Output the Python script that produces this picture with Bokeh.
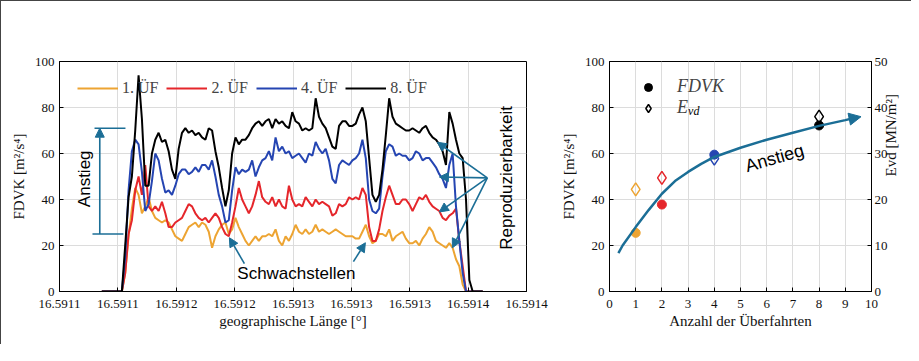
import numpy as np
from bokeh.plotting import figure
from bokeh.models import (ColumnDataSource, Range1d, LinearAxis, FixedTicker,
                          PrintfTickFormatter, Legend, LegendItem, Label, Arrow,
                          NormalHead)
from bokeh.layouts import row
from bokeh.embed import file_html
from bokeh.resources import INLINE

ORANGE = "#EDA432"
RED = "#E5262B"
BLUE = "#2545B2"
BLACK = "#000000"
TEAL = "#1B6E96"
SERIF = "Liberation Serif"
SANS = "Liberation Sans"

# ---------------- left panel data ----------------
X_TICKS = [16.59110, 16.59114, 16.59118, 16.59122, 16.59126,
           16.59130, 16.59134, 16.59138, 16.59142]
Y_TICKS = [0, 20, 40, 60, 80, 100]
LON_FIRST = 16.591129
LON_LAST = 16.591390
series_labels = ["1. ÜF", "2. ÜF", "4. ÜF", "8. ÜF"]

fdvk_1 = [0, 0, 0, 0, 0, 0, 0,
          8, 24, 36, 45, 42, 34, 37,
          41, 35, 32, 31, 30, 31, 30,
          27, 24, 23, 22, 25, 28, 29,
          30, 28, 30, 29, 26, 19, 24,
          27, 29, 30, 25, 27, 32, 28,
          25, 22, 20, 22, 24, 22, 24,
          24, 25, 24, 27, 22, 20, 24,
          22, 25, 29, 26, 25, 27, 25,
          26, 29, 26, 27, 26, 25, 26,
          27, 26, 25, 24, 24, 24, 23,
          23, 26, 29, 24, 21, 22, 25,
          25, 24, 27, 22, 24, 25, 26,
          23, 21, 21, 22, 20, 23, 25,
          28, 26, 22, 21, 20, 19, 21,
          19, 14, 11, 3, 0, 0, 0,
          0, 0, 0]

fdvk_2 = [0, 0, 0, 0, 0, 0, 0,
          8, 25, 31, 44, 50, 42, 55,
          37, 35, 37, 35, 39, 34, 28,
          28, 30, 31, 32, 35, 38, 37,
          34, 32, 31, 32, 30, 32, 34,
          32, 28, 25, 24, 30, 37, 45,
          40, 37, 34, 37, 42, 48, 41,
          39, 38, 41, 37, 40, 37, 36,
          46, 40, 37, 38, 37, 41, 39,
          37, 40, 38, 39, 38, 37, 33,
          34, 38, 37, 38, 41, 40, 41,
          40, 45, 42, 28, 22, 22, 27,
          35, 41, 46, 42, 38, 38, 40,
          40, 38, 35, 38, 41, 40, 42,
          39, 37, 36, 35, 32, 31, 33,
          34, 36, 22, 11, 0, 0, 0,
          0, 0, 0]

fdvk_4 = [0, 0, 0, 0, 0, 0, 0,
          15, 44, 61, 66, 64, 52, 35,
          38, 48, 60, 57, 49, 43, 44,
          42, 46, 51, 53, 53, 51, 52,
          54, 52, 55, 55, 53, 57, 50,
          42, 37, 30, 31, 44, 54, 51,
          53, 52, 53, 57, 50, 54, 57,
          58, 61, 57, 67, 61, 63, 60,
          61, 58, 59, 60, 58, 56, 60,
          59, 65, 62, 60, 62, 57, 49,
          47, 55, 57, 56, 55, 57, 58,
          60, 66, 58, 40, 35, 34, 36,
          50, 61, 64, 63, 59, 60, 59,
          59, 57, 58, 61, 60, 57, 58,
          58, 56, 54, 51, 49, 45, 55,
          60, 37, 22, 8, 0, 0, 0,
          0, 0, 0]

fdvk_8 = [0, 0, 0, 0, 0, 0, 0,
          20, 41, 50, 70, 94, 75, 46,
          46, 60, 66, 69, 65, 66, 61,
          53, 49, 62, 69, 71, 69, 70,
          68, 69, 67, 66, 71, 70, 61,
          54, 45, 37, 44, 60, 67, 64,
          66, 66, 68, 71, 73, 74, 72,
          74, 75, 71, 75, 73, 74, 72,
          71, 78, 74, 73, 70, 71, 70,
          71, 84, 76, 73, 71, 67, 63,
          62, 72, 74, 74, 72, 72, 73,
          77, 80, 74, 58, 42, 39, 42,
          53, 68, 84, 76, 73, 72, 71,
          70, 70, 71, 70, 69, 71, 72,
          69, 67, 66, 64, 61, 55, 78,
          73, 66, 60, 58, 40, 5, 0,
          0, 0, 0]

# ---------------- right panel data ----------------
R_X_TICKS = list(range(0, 11))
R_Y_TICKS = [0, 20, 40, 60, 80, 100]
EVD_TICKS = [0, 10, 20, 30, 40, 50]
passes = [1, 2, 4, 8]
fdvk_mean = [25.5, 37.8, 59.5, 72.2]
evd_vals = [22.2, 24.7, 28.9, 38.0]
point_colors = [ORANGE, RED, BLUE, BLACK]
trend_x = [0.34, 0.5, 1, 1.5, 2, 2.5, 3, 3.5, 4, 5, 6, 7, 8, 9, 9.3]
trend_y = [16.7, 20, 28, 35.5, 42.5, 48, 52, 55.5, 58.5, 62.5, 66, 69, 72, 74.5, 75.3]


def style_axis(ax, ticks):
    ax.ticker = FixedTicker(ticks=ticks)
    ax.major_tick_in = 4
    ax.major_tick_out = 0
    ax.minor_tick_line_color = None
    ax.axis_line_color = "black"
    ax.major_tick_line_color = "black"
    ax.major_label_text_font = SERIF
    ax.major_label_text_font_size = "13px"
    ax.major_label_text_color = "#111111"
    ax.axis_label_text_font = SERIF
    ax.axis_label_text_font_size = "15px"
    ax.axis_label_text_font_style = "normal"
    ax.axis_label_text_color = "#111111"


def base_fig(width, left, right, xr, xticks, yticks, xlabel, ylabel):
    p = figure(width=width, height=344,
               min_border_left=left, min_border_right=right,
               min_border_top=60, min_border_bottom=53,
               x_range=xr, y_range=Range1d(0, 100),
               output_backend="svg", toolbar_location=None)
    p.outline_line_color = "black"
    p.outline_line_alpha = 1
    p.background_fill_color = "white"
    p.border_fill_color = "white"
    xa = p.xaxis[0]
    ya = p.yaxis[0]
    style_axis(xa, xticks)
    style_axis(ya, yticks)
    xa.axis_label = xlabel
    xa.major_label_standoff = 8
    xa.axis_label_standoff = 2
    ya.axis_label = ylabel
    p.xgrid.ticker = FixedTicker(ticks=xticks)
    p.ygrid.ticker = FixedTicker(ticks=yticks)
    p.grid.grid_line_color = "#dcdcdc"
    p.grid.grid_line_width = 1
    return p, xa, ya


# ================= left figure =================
p1, xa1, ya1 = base_fig(556, 58, 31, Range1d(X_TICKS[0], X_TICKS[-1]), X_TICKS, Y_TICKS,
                        "geographische Länge [°]", "FDVK [m²/s⁴]")
xa1.formatter = PrintfTickFormatter(format="%.4f")

lon = np.linspace(LON_FIRST, LON_LAST, len(fdvk_8))
items = []
for vals, col, lab in zip([fdvk_1, fdvk_2, fdvk_4, fdvk_8],
                          [ORANGE, RED, BLUE, BLACK], series_labels):
    r = p1.line(lon, vals, line_color=col, line_width=2)
    items.append(LegendItem(label=lab, renderers=[r]))

leg1 = Legend(items=items, orientation="horizontal", location="top_left",
              background_fill_alpha=0, border_line_alpha=0,
              label_text_font=SERIF, label_text_font_size="16px",
              glyph_width=41, glyph_height=14, label_standoff=4,
              spacing=8, margin=12, padding=6)
p1.add_layout(leg1)


def teal_arrow(x0, y0, x1, y1, head=True, width=1.6):
    end = NormalHead(size=9, fill_color=TEAL, line_color=TEAL) if head else None
    return Arrow(end=end, x_start=x0, y_start=y0, x_end=x1, y_end=y1,
                 line_color=TEAL, line_width=width)


# "Anstieg" bracket
p1.add_layout(teal_arrow(16.5911276, 25, 16.5911276, 71))
p1.add_layout(teal_arrow(16.5911226, 25, 16.5911438, 25, head=False))
p1.add_layout(teal_arrow(16.5911240, 71, 16.5911452, 71, head=False))
p1.add_layout(Label(x=16.5911171, y=49, text="Anstieg", angle=np.pi / 2,
                    text_align="center", text_baseline="middle",
                    text_font=SANS, text_font_size="17px", text_color="black"))

# Schwachstellen
p1.add_layout(Label(x=16.5912623, y=7.8, text="Schwachstellen",
                    text_align="center", text_baseline="middle",
                    text_font=SANS, text_font_size="17px", text_color="black"))
p1.add_layout(teal_arrow(16.5912267, 12.1, 16.5912164, 23.4))
p1.add_layout(teal_arrow(16.5913014, 13.0, 16.5913096, 21.2))

# Reproduzierbarkeit
p1.add_layout(Label(x=16.5914062, y=49.4, text="Reproduzierbarkeit", angle=np.pi / 2,
                    text_align="center", text_baseline="middle",
                    text_font=SANS, text_font_size="17px", text_color="black"))
for ex, ey in [(16.5913589, 64.9), (16.5913603, 49.8), (16.5913603, 34.6), (16.5913692, 19.0)]:
    p1.add_layout(teal_arrow(16.59139315, 49.4, ex, ey))

# ================= right figure =================
p2, xa2, ya2 = base_fig(355, 51, 41, Range1d(0, 10), R_X_TICKS, R_Y_TICKS,
                        "Anzahl der Überfahrten", "FDVK [m²/s⁴]")
p2.extra_y_ranges = {"evd": Range1d(0, 50)}
eax = LinearAxis(y_range_name="evd", axis_label="Evd [MN/m²]")
style_axis(eax, EVD_TICKS)
eax.major_label_standoff = 3
eax.axis_label_standoff = 0
eax.axis_label_orientation = np.pi / 2
p2.add_layout(eax, "right")

src = ColumnDataSource(dict(n=passes, fdvk=fdvk_mean, evd=evd_vals, color=point_colors))
rd = p2.scatter("n", "evd", source=src, y_range_name="evd", marker="diamond",
                size=13, fill_color="white", fill_alpha=0, line_color="color", line_width=1.5)
rc = p2.scatter("n", "fdvk", source=src, marker="circle", size=9,
                fill_color="color", line_color="color")

p2.line(trend_x, trend_y, line_color=TEAL, line_width=2.5)
p2.add_layout(Arrow(end=NormalHead(size=12, fill_color=TEAL, line_color=TEAL),
                    x_start=9.3, y_start=75.3, x_end=9.6, y_end=76.0,
                    line_color=TEAL, line_width=2.5))
p2.add_layout(Label(x=6.3, y=58, text="Anstieg", angle=0.28,
                    text_align="center", text_baseline="middle",
                    text_font=SANS, text_font_size="18px", text_color="black"))

leg2 = Legend(items=[LegendItem(label="FDVK", renderers=[rc], index=3),
                     LegendItem(label="E", renderers=[rd], index=3)],
              location="top_left", background_fill_alpha=0, border_line_alpha=0,
              label_text_font=SERIF, label_text_font_style="italic",
              label_text_font_size="18px", glyph_width=48, glyph_height=20,
              label_height=20, label_standoff=5, spacing=0, margin=10, padding=5)
p2.add_layout(leg2)
p2.add_layout(Label(x=3.0, y=78.4, text="vd", text_align="left", text_baseline="middle",
                    text_font=SERIF, text_font_style="italic", text_font_size="12px",
                    text_color="black"))

layout = row(p1, p2, width=911, height=344,
             styles={"border-top": "1px solid #444444",
                     "border-left": "1px solid #444444"})

with open("out.html", "w") as f:
    f.write(file_html(layout, INLINE))
